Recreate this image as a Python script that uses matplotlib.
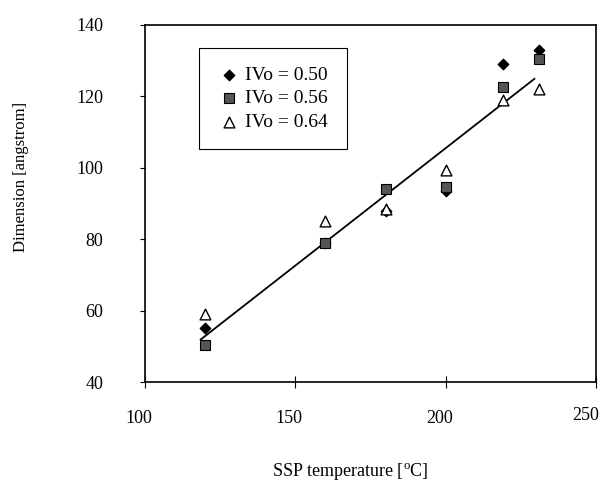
import matplotlib
matplotlib.use('Agg')
from matplotlib import pyplot as plt
from matplotlib.transforms import ScaledTranslation
import numpy as np

# SSP temperature [C]
temps = [120, 160, 180, 200, 219, 231]

# Dimension [angstrom] for each intrinsic viscosity
dim_050 = [55.0, 79.0, 88.0, 93.5, 129.0, 133.0]
dim_056 = [50.5, 79.0, 94.0, 94.5, 122.5, 130.5]
dim_064 = [59.0, 85.0, 88.5, 99.5, 119.0, 122.0]

labels = ['IVo = 0.50', 'IVo = 0.56', 'IVo = 0.64']
fit_range = [118.5, 229.5]

plt.rcParams['font.family'] = ['Liberation Serif', 'DejaVu Serif']
plt.rcParams['mathtext.fontset'] = 'stix'

fig = plt.figure(figsize=(6.01, 4.88), dpi=100)
ax = fig.add_axes([0.2413, 0.2172, 0.7504, 0.7316])

ax.scatter(temps, dim_050, marker='D', s=28, color='black', label=labels[0], zorder=3)
ax.scatter(temps, dim_056, marker='s', s=55, facecolor='#555555', edgecolor='black',
           linewidth=0.8, label=labels[1], zorder=4)
ax.scatter(temps, dim_064, marker='^', s=60, facecolor='white', edgecolor='black',
           linewidth=1.0, label=labels[2], zorder=5)

# linear fit through all points
all_x = np.array(temps * 3)
all_y = np.array(dim_050 + dim_056 + dim_064)
slope, icpt = np.polyfit(all_x, all_y, 1)
fx = np.array(fit_range)
ax.plot(fx, slope * fx + icpt, color='black', lw=1.3, zorder=2)

ax.set_xlim(100, 250)
ax.set_ylim(40, 140)
ax.set_xticks([100, 150, 200, 250])
ax.set_yticks([40, 60, 80, 100, 120, 140])

for sp in ax.spines.values():
    sp.set_linewidth(1.2)
    sp.set_color('black')

ax.tick_params(axis='y', direction='out', length=3.6, width=0.8, pad=26.5, labelsize=13)
ax.tick_params(axis='x', direction='inout', length=8, width=0.8, pad=16, labelsize=13)

# x labels sit a little left of their ticks, as in the original
xlbls = ax.get_xticklabels()
for i, t in enumerate(xlbls):
    dx, dy = (-6, 0) if i < len(xlbls) - 1 else (-10, 3)
    t.set_transform(t.get_transform() + ScaledTranslation(dx / 100, dy / 100, fig.dpi_scale_trans))

ax.set_xlabel('SSP temperature [$\\mathregular{^{o}}$C]', fontsize=13)
ax.xaxis.set_label_coords(0.455, -0.222)
ax.set_ylabel('Dimension [angstrom]', fontsize=12)
ax.yaxis.set_label_coords(-0.257, 0.574)

leg = ax.legend(loc='upper left', bbox_to_anchor=(0.12, 0.936), fontsize=14,
                frameon=True, fancybox=False, edgecolor='black', framealpha=1,
                borderpad=0.95, labelspacing=0.3, handletextpad=0.23,
                handlelength=1.2, borderaxespad=0, scatterpoints=1)
leg.get_frame().set_linewidth(0.8)

fig.savefig('out.png', dpi=100)
